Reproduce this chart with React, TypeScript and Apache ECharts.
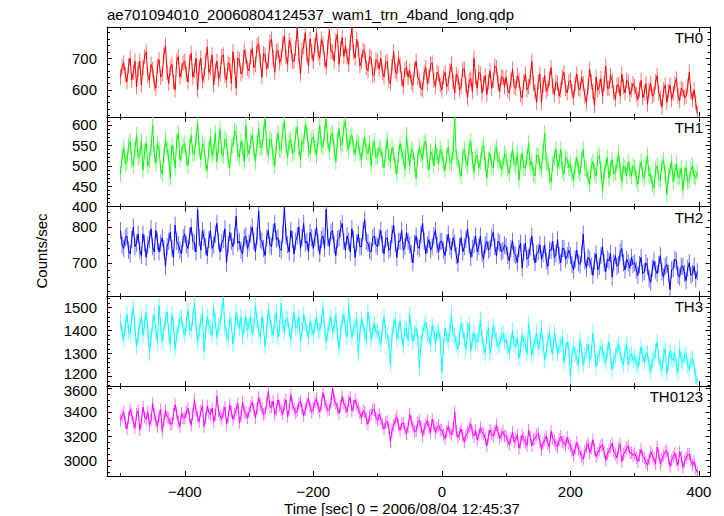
import React, { useEffect, useRef } from "react";
import * as echarts from "echarts";

const TITLE = "ae701094010_20060804124537_wam1_trn_4band_long.qdp";
const X_TITLE = "Time [sec] 0 = 2006/08/04 12:45:37";
const Y_TITLE = "Counts/sec";
const PANEL_NAMES = ["TH0", "TH1", "TH2", "TH3", "TH0123"];
const T_START = -500;
const T_STEP = 2.5;

const TH0 = [
  640, 672, 685, 648, 625, 675, 700, 630, 655, 690, 610, 665, 690, 615, 670, 705, 720, 645, 630, 680, 665, 620, 605, 675, 695, 640, 650, 710, 740, 655, 620, 668, 680, 625, 600, 690, 705, 640, 660, 685,
  690, 650, 625, 688, 715, 640, 660, 700, 600, 672, 700, 628, 645, 690, 735, 655, 670, 710, 615, 662, 690, 635, 650, 705, 710, 645, 630, 685, 680, 620, 720, 675, 605, 700, 695, 650, 660, 725, 705, 668,
  660, 705, 730, 670, 680, 740, 745, 690, 640, 715, 710, 665, 690, 750, 760, 700, 655, 720, 725, 685,
  700, 745, 770, 705, 680, 755, 740, 690, 690, 730, 795, 710, 650, 725, 735, 780, 710, 675, 760, 720,
  690, 740, 780, 715, 700, 760, 745, 695, 670, 735, 790, 720, 720, 690, 755, 775, 680, 730, 765, 705,
  740, 705, 680, 750, 795, 720, 700, 760, 730, 675, 690, 725,
  720, 670, 660, 705, 700, 645, 650, 695, 690, 665,
  700, 655, 640, 685, 690, 630, 620, 675, 720, 660, 650, 700, 680, 635, 610, 665, 670, 640,
  660, 625, 615, 665, 690, 640, 630, 605, 600, 655, 670, 620, 640, 680, 685, 630, 610, 655, 650, 615,
  600, 640, 655, 610, 620, 660, 680, 625, 590, 650, 640, 600, 610, 665, 665, 615, 575, 630, 635, 595, 700, 640, 605, 655, 650, 590, 620, 645, 585, 625, 660, 605, 630, 675, 670, 620, 595, 640, 640, 610,
  640, 600, 590, 630, 665, 610, 605, 645, 630, 585, 575, 625, 650, 600, 610, 640, 690, 620, 595, 560, 625, 650, 560, 615, 645, 595, 605, 635, 670, 610, 585, 625, 620, 580, 600, 640, 655, 605, 590, 625,
  630, 595, 575, 620, 650, 605, 600, 640, 620, 580, 560, 610, 665, 625, 595, 550, 640, 600, 610, 635, 580, 620, 675, 605, 605, 645, 630, 590, 570, 615, 615, 580, 650, 610, 590, 630, 625, 585, 600, 620,
  610, 585, 570, 600, 630, 575, 590, 620, 555, 600, 620, 580, 585, 625, 645, 590, 575, 545, 600, 615, 560, 595, 615, 570, 590, 620, 635, 580, 565, 605, 600, 575, 580, 610, 655, 590, 570, 600, 560, 525,
];

const TH1 = [
  480, 520, 545, 505, 510, 550, 560, 515, 500, 540, 575, 520, 525, 560, 490, 535, 555, 500, 515, 545, 600, 530, 505, 555, 540, 490, 480, 525, 565, 540, 520, 470, 550, 530, 495, 560, 580, 515, 530, 550,
  555, 520, 500, 545, 575, 530, 530, 565, 605, 540, 515, 555, 545, 505, 490, 540, 570, 525, 535, 580, 510, 550, 590, 530, 525, 565, 560, 515, 495, 545, 550, 585, 580, 530, 520, 560, 545, 510, 600, 540,
  530, 560, 575, 540, 510, 555, 590, 545, 545, 580, 615, 550, 525, 565, 560, 520, 500, 550, 580, 540, 540, 585, 610, 550, 520, 560, 565, 530, 535, 575, 595, 545, 515, 560, 555, 600, 585, 540, 530, 565,
  570, 545, 525, 565, 600, 550, 545, 580, 615, 560, 535, 575, 580, 540, 510, 560, 590, 550, 555, 595, 610, 555, 540, 570, 575, 545, 530, 560,
  555, 530, 515, 550, 570, 535, 530, 555, 500, 545, 560, 520, 525, 545,
  540, 515, 495, 530, 565, 520, 510, 545, 530, 500, 480, 525, 555, 535, 520, 490, 575, 530, 500, 540, 535, 505, 470, 520, 545, 530, 515, 555, 560, 510, 490, 535, 525, 500, 550, 525, 505, 540,
  530, 505, 490, 525, 545, 510, 505, 535, 620, 520, 515, 490, 475, 525, 540, 510, 500, 545, 560, 515, 485, 520, 525, 495, 510, 540, 550, 505, 470, 515, 530, 500, 495, 535, 545, 510, 515, 490, 500, 530,
  520, 495, 480, 515, 540, 505, 500, 530, 465, 510, 530, 495, 495, 520, 555, 500, 510, 480, 475, 525, 525, 500, 490, 535, 580, 510, 505, 475, 460, 505, 520, 540, 495, 510, 540, 490, 480, 520, 515, 495,
  505, 480, 465, 500, 520, 490, 480, 515, 540, 495, 490, 470, 455, 500, 510, 485, 475, 520, 525, 490, 440, 485, 500, 520, 470, 495, 515, 480, 485, 505, 530, 490, 460, 500, 495, 475, 510, 490, 475, 500,
  495, 470, 455, 490, 510, 480, 470, 500, 525, 475, 480, 455, 445, 490, 500, 470, 465, 505, 515, 480, 430, 475, 490, 510, 460, 485, 505, 470, 475, 495, 440, 480, 495, 460, 465, 490, 500, 475, 470, 485,
];

const TH2 = [
  790, 750, 740, 770, 775, 735, 725, 765, 800, 745, 755, 780, 735, 720, 780, 755, 715, 750, 765, 795, 745, 730, 790, 760, 730, 755, 770, 740, 690, 745, 760, 785, 740, 715, 805, 760, 750, 735, 725, 770,
  780, 750, 740, 775, 800, 760, 755, 730, 850, 770, 735, 790, 770, 745, 720, 765, 790, 740, 750, 780, 810, 760, 730, 755, 765, 795, 700, 750, 785, 760, 745, 775, 830, 755, 760, 735, 725, 770, 775, 740,
  755, 780, 800, 760, 730, 775, 845, 765, 760, 740, 720, 770, 790, 750, 745, 785, 810, 765, 770, 740, 735, 780, 855, 775, 750, 730, 790, 765, 725, 760, 775, 800, 740, 770, 810, 755, 760, 730, 785, 770,
  740, 770, 800, 755, 725, 765, 775, 740, 850, 770, 745, 785, 790, 750, 720, 765, 770, 795, 810, 760, 735, 775, 760, 730, 795, 765, 715, 755, 780, 745, 745, 790, 820, 760, 755, 735, 730, 770, 775, 750,
  745, 770, 790, 750, 725, 765, 770, 735, 740, 780, 805, 755, 715, 760, 760, 790, 735, 745, 785, 760, 750, 725, 700, 755, 775, 745, 740, 780, 810, 760, 725, 750, 765, 735, 745, 775, 790, 750, 730, 760,
  760, 735, 720, 755, 780, 745, 735, 770, 755, 720, 700, 745, 770, 730, 745, 765, 795, 750, 715, 740, 750, 775, 730, 745, 775, 725, 710, 750, 760, 735, 740, 770, 785, 745, 720, 760, 755, 730, 735, 750,
  745, 720, 705, 740, 760, 725, 720, 700, 740, 755, 685, 730, 755, 710, 715, 745, 775, 730, 700, 725, 730, 750, 710, 725, 750, 705, 690, 735, 735, 760, 715, 725, 765, 720, 700, 740, 740, 710, 720, 735,
  720, 695, 680, 710, 735, 700, 695, 725, 780, 705, 685, 715, 710, 690, 665, 705, 725, 680, 690, 720, 745, 700, 675, 710, 705, 725, 660, 700, 720, 690, 695, 730, 740, 700, 680, 710, 700, 685, 715, 695,
  700, 680, 665, 695, 715, 670, 675, 700, 690, 655, 645, 685, 705, 680, 670, 695, 720, 675, 660, 690, 695, 670, 625, 680, 685, 710, 705, 665, 660, 690, 690, 670, 650, 685, 700, 665, 670, 690, 655, 675,
];

const TH3 = [
  1440, 1390, 1360, 1420, 1470, 1400, 1390, 1450, 1500, 1410, 1330, 1380, 1420, 1460, 1380, 1430, 1480, 1400, 1300, 1370, 1430, 1470, 1400, 1350, 1510, 1420, 1350, 1400, 1450, 1480, 1390, 1340, 1470, 1420, 1320, 1380, 1420, 1450, 1460, 1400,
  1380, 1430, 1490, 1410, 1400, 1450, 1520, 1420, 1350, 1400, 1440, 1470, 1310, 1390, 1460, 1420, 1410, 1380, 1500, 1440, 1370, 1420, 1430, 1480, 1540, 1410, 1390, 1360, 1450, 1430, 1340, 1400, 1480, 1440, 1410, 1460, 1370, 1420, 1460, 1400,
  1430, 1460, 1380, 1420, 1510, 1440, 1400, 1370, 1460, 1420, 1330, 1400, 1490, 1450, 1410, 1380, 1440, 1480, 1370, 1410, 1520, 1430, 1390, 1450, 1450, 1400, 1360, 1430, 1480, 1410, 1420, 1460, 1350, 1400, 1470, 1430, 1400, 1370, 1440, 1410,
  1380, 1420, 1460, 1400, 1400, 1440, 1500, 1410, 1350, 1390, 1430, 1460, 1390, 1420, 1470, 1380, 1320, 1400, 1440, 1470, 1410, 1370, 1510, 1430, 1370, 1410, 1420, 1450, 1300, 1390, 1450, 1420, 1390, 1360, 1480, 1430, 1360, 1400, 1430, 1390,
  1400, 1370, 1340, 1410, 1460, 1390, 1380, 1350, 1250, 1380, 1420, 1450, 1360, 1400, 1440, 1380, 1330, 1410, 1400, 1360, 1470, 1400, 1350, 1390, 1410, 1370, 1240, 1350, 1390, 1420, 1440, 1380, 1370, 1340, 1420, 1400, 1340, 1390, 1400, 1360,
  1220, 1330, 1410, 1370, 1350, 1400, 1470, 1380, 1380, 1340, 1320, 1370, 1430, 1400, 1360, 1320, 1400, 1430, 1310, 1360, 1390, 1350, 1350, 1380, 1450, 1370, 1330, 1300, 1380, 1410, 1300, 1350, 1420, 1390, 1360, 1330, 1340, 1380, 1390, 1350,
  1360, 1330, 1300, 1350, 1400, 1340, 1330, 1370, 1280, 1320, 1380, 1350, 1340, 1300, 1430, 1360, 1290, 1330, 1350, 1390, 1320, 1350, 1410, 1340, 1270, 1310, 1360, 1390, 1330, 1300, 1390, 1350, 1300, 1330, 1340, 1370, 1260, 1310, 1350, 1320,
  1200, 1290, 1330, 1300, 1280, 1250, 1360, 1310, 1250, 1290, 1310, 1340, 1270, 1300, 1390, 1320, 1240, 1280, 1300, 1330, 1320, 1280, 1260, 1310, 1350, 1290, 1230, 1270, 1290, 1320, 1340, 1300, 1270, 1250, 1310, 1340, 1250, 1290, 1300, 1270,
  1290, 1260, 1240, 1280, 1330, 1290, 1260, 1300, 1300, 1250, 1220, 1270, 1280, 1310, 1350, 1280, 1250, 1230, 1290, 1320, 1210, 1260, 1310, 1280, 1270, 1300, 1240, 1220, 1320, 1270, 1260, 1290, 1300, 1250, 1230, 1270, 1280, 1240, 1200, 1170,
];

const TH0123 = [
  3330, 3370, 3400, 3310, 3260, 3350, 3420, 3380, 3310, 3270, 3380, 3410, 3250, 3320, 3440, 3360, 3340, 3400, 3290, 3330, 3470, 3380, 3330, 3280, 3370, 3420, 3240, 3330, 3410, 3360, 3350, 3300, 3300, 3380, 3460, 3390, 3320, 3280, 3390, 3350,
  3350, 3400, 3430, 3360, 3290, 3380, 3500, 3410, 3360, 3320, 3410, 3450, 3280, 3350, 3450, 3390, 3380, 3430, 3320, 3370, 3530, 3410, 3370, 3340, 3400, 3440, 3300, 3360, 3460, 3400, 3340, 3380, 3420, 3470, 3310, 3360, 3480, 3400, 3390, 3350,
  3400, 3450, 3480, 3420, 3350, 3430, 3520, 3460, 3430, 3380, 3390, 3470, 3570, 3440, 3440, 3490, 3380, 3420, 3500, 3450, 3420, 3380, 3460, 3500, 3360, 3420, 3540, 3460, 3430, 3390, 3410, 3470, 3490, 3430, 3370, 3420, 3470, 3510, 3440, 3400,
  3430, 3480, 3510, 3440, 3400, 3460, 3560, 3490, 3450, 3410, 3420, 3480, 3600, 3500, 3470, 3430, 3390, 3450, 3530, 3470, 3440, 3400, 3490, 3520, 3410, 3450, 3500, 3460,
  3430, 3390, 3350, 3410, 3400, 3340, 3300, 3370, 3380, 3420, 3420, 3350, 3330, 3380,
  3340, 3300, 3260, 3310, 3320, 3270, 3150, 3250, 3290, 3330, 3360, 3290, 3250, 3300, 3310, 3260, 3220, 3280, 3380, 3320, 3280, 3240, 3240, 3310, 3330, 3280, 3200, 3260, 3300, 3330, 3270, 3230, 3340, 3290, 3230, 3270, 3290, 3250,
  3250, 3210, 3180, 3240, 3280, 3230, 3210, 3260, 3400, 3240, 3190, 3220, 3260, 3200, 3150, 3210, 3230, 3270, 3300, 3230, 3200, 3250, 3170, 3210, 3270, 3230, 3220, 3180, 3120, 3200, 3250, 3220, 3200, 3240, 3290, 3230, 3180, 3210, 3240, 3200,
  3200, 3160, 3130, 3180, 3230, 3150, 3170, 3210, 3100, 3150, 3210, 3180, 3150, 3120, 3250, 3190, 3120, 3170, 3180, 3210, 3220, 3160, 3090, 3140, 3170, 3200, 3140, 3110, 3240, 3180, 3160, 3130, 3110, 3170, 3200, 3150, 3150, 3120, 3190, 3140,
  3120, 3080, 3040, 3100, 3150, 3090, 3070, 3030, 3010, 3070, 3110, 3140, 3060, 3100, 3170, 3090, 3030, 3060, 3090, 3120, 3130, 3070, 3000, 3050, 3080, 3110, 3140, 3070, 3050, 3020, 3100, 3130, 2990, 3050, 3070, 3100, 3120, 3060, 3060, 3040,
  3060, 3020, 2990, 3040, 3090, 3030, 3020, 2980, 2960, 3010, 3070, 3040, 3010, 2970, 3110, 3050, 2970, 3010, 3040, 3070, 3080, 3020, 2950, 3000, 3030, 3060, 3000, 2960, 3070, 3030, 2940, 2990, 3020, 3050, 3050, 3000, 2960, 2990, 2930, 2900,
];

// 1-sigma error bar half-length for each band (counts/sec)
const ERRORS = [24, 20, 24, 35, 52];

const X_MAJOR = [-400, -200, 0, 200, 400];
const X_MINOR = [-500, -300, -100, 100, 300];

const TH0_MAJOR = [600, 700];
const TH0_MINOR = [520, 540, 560, 580, 620, 640, 660, 680, 720, 740, 760, 780];
const TH1_MAJOR = [400, 450, 500, 550, 600];
const TH1_MINOR = [410, 420, 430, 440, 460, 470, 480, 490, 510, 520, 530, 540, 560, 570, 580, 590, 610];
const TH2_MAJOR = [700, 800];
const TH2_MINOR = [620, 640, 660, 680, 720, 740, 760, 780, 820, 840];
const TH3_MAJOR = [1200, 1300, 1400, 1500];
const TH3_MINOR = [1160, 1180, 1220, 1240, 1260, 1280, 1320, 1340, 1360, 1380, 1420, 1440, 1460, 1480, 1520, 1540];
const TH0123_MAJOR = [3000, 3200, 3400, 3600];
const TH0123_MINOR = [2900, 2950, 3050, 3100, 3150, 3250, 3300, 3350, 3450, 3500, 3550];

const SERIES = [TH0, TH1, TH2, TH3, TH0123];
const Y_MAJORS = [TH0_MAJOR, TH1_MAJOR, TH2_MAJOR, TH3_MAJOR, TH0123_MAJOR];
const Y_MINORS = [TH0_MINOR, TH1_MINOR, TH2_MINOR, TH3_MINOR, TH0123_MINOR];
const Y_MINS = [515, 400, 606, 1157, 2870];
const Y_MAXS = [798, 620, 857, 1549, 3613];
const COLORS = ["#ff0000", "#00ff00", "#0000ff", "#00ffff", "#ff00ff"];
const ERR_COLORS = ["#ff7070", "#70ff70", "#7070ff", "#70ffff", "#ff70ff"];

const X_MIN = -521;
const X_MAX = 418;

const FONT = "Liberation Sans, Arial, Helvetica, sans-serif";

export default function App() {
  const ref = useRef<HTMLDivElement>(null);
  useEffect(() => {
    if (!ref.current) return;
    const chart = echarts.init(ref.current, undefined, { renderer: "svg" });
    const LEFT = 107;
    const RIGHT = 710.5;
    const TOP = 27;
    const BOTTOM = 476;
    const ph = (BOTTOM - TOP) / 5;
    const grids: any[] = [];
    const xAxes: any[] = [];
    const yAxes: any[] = [];
    const series: any[] = [];
    const graphics: any[] = [];
    const lineStyle = { color: "#000", width: 1 };

    for (let i = 0; i < 5; i++) {
      grids.push({ left: LEFT, top: TOP + i * ph, width: RIGHT - LEFT, height: ph, containLabel: false });
      const mkX = (pos: string, vals: number[], len: number, showLine: boolean, showLabel: boolean) => ({
        type: "value",
        gridIndex: i,
        min: X_MIN,
        max: X_MAX,
        position: pos,
        axisLine: { show: showLine, onZero: false, lineStyle },
        axisTick: { show: true, inside: true, length: len, customValues: vals, lineStyle },
        axisLabel: {
          show: showLabel,
          customValues: vals,
          color: "#000",
          fontSize: 15,
          fontFamily: FONT,
          margin: 8,
          formatter: (v: number) => (v < 0 ? "\u2212" + Math.abs(v) : String(v)),
        },
        splitLine: { show: false },
      });
      xAxes.push(mkX("bottom", X_MAJOR, 5, true, i === 4));
      xAxes.push(mkX("bottom", X_MINOR, 3, false, false));
      xAxes.push(mkX("top", X_MAJOR, 5, true, false));
      xAxes.push(mkX("top", X_MINOR, 3, false, false));

      const majors = Y_MAJORS[i];
      const lowest = majors[0];
      const highest = majors[majors.length - 1];
      const mkY = (pos: string, vals: number[], len: number, showLine: boolean, showLabel: boolean) => ({
        type: "value",
        gridIndex: i,
        min: Y_MINS[i],
        max: Y_MAXS[i],
        position: pos,
        axisLine: { show: showLine, onZero: false, lineStyle },
        axisTick: { show: true, inside: true, length: len, customValues: vals, lineStyle },
        axisLabel: {
          show: showLabel,
          customValues: vals,
          color: "#000",
          fontSize: 15,
          lineHeight: 11,
          fontFamily: FONT,
          margin: 10,
          formatter: (v: number) => {
            // nudge labels that sit on a shared panel boundary so they don't collide
            if (i === 3 && v === lowest) return "{up|" + v + "}";
            if (i === 4 && v === highest) return "{down|" + v + "}";
            return String(v);
          },
          rich: {
            up: { fontSize: 15, lineHeight: 11, fontFamily: FONT, color: "#000", padding: [0, 0, 5, 0] },
            down: { fontSize: 15, lineHeight: 11, fontFamily: FONT, color: "#000", padding: [5, 0, 0, 0] },
          },
        },
        splitLine: { show: false },
      });
      yAxes.push(mkY("left", majors, 5, true, true));
      yAxes.push(mkY("left", Y_MINORS[i], 3, false, false));
      yAxes.push(mkY("right", majors, 5, true, false));
      yAxes.push(mkY("right", Y_MINORS[i], 3, false, false));

      const pts = SERIES[i].map((v, k) => [T_START + k * T_STEP, v]);
      const err = ERRORS[i];
      const errColor = ERR_COLORS[i];
      series.push({
        type: "custom",
        xAxisIndex: 4 * i,
        yAxisIndex: 4 * i,
        data: pts,
        clip: true,
        silent: true,
        z: 1,
        renderItem: (_params: any, api: any) => {
          const x = api.value(0);
          const y = api.value(1);
          const a = api.coord([x, y - err]);
          const b = api.coord([x, y + err]);
          return {
            type: "line",
            shape: { x1: a[0], y1: a[1], x2: b[0], y2: b[1] },
            style: { stroke: errColor, lineWidth: 1 },
          };
        },
      });
      series.push({
        type: "line",
        xAxisIndex: 4 * i,
        yAxisIndex: 4 * i,
        data: pts,
        showSymbol: false,
        symbol: "none",
        clip: true,
        lineStyle: { color: COLORS[i], width: 1 },
        silent: true,
        z: 2,
      });

      graphics.push({
        type: "text",
        right: 724 - 703,
        top: TOP + i * ph + 3,
        z: 10,
        style: { text: PANEL_NAMES[i], fill: "#000", fontSize: 15, fontFamily: FONT },
      });
    }

    graphics.push({
      type: "text",
      left: 107,
      top: 7,
      style: { text: TITLE, fill: "#000", fontSize: 15, fontFamily: FONT },
    });
    graphics.push({
      type: "text",
      x: 402,
      y: 508,
      style: { text: X_TITLE, fill: "#000", fontSize: 15, fontFamily: FONT, align: "center", verticalAlign: "middle" },
    });
    graphics.push({
      type: "text",
      x: 41,
      y: 251,
      rotation: Math.PI / 2,
      style: { text: Y_TITLE, fill: "#000", fontSize: 15, fontFamily: FONT, align: "center", verticalAlign: "middle" },
    });

    chart.setOption({
      animation: false,
      backgroundColor: "#fff",
      grid: grids,
      xAxis: xAxes,
      yAxis: yAxes,
      series,
      graphic: graphics,
    });
    return () => chart.dispose();
  }, []);
  return <div ref={ref} style={{ position: "fixed", left: 0, top: 0, width: 724, height: 516 }} />;
}
